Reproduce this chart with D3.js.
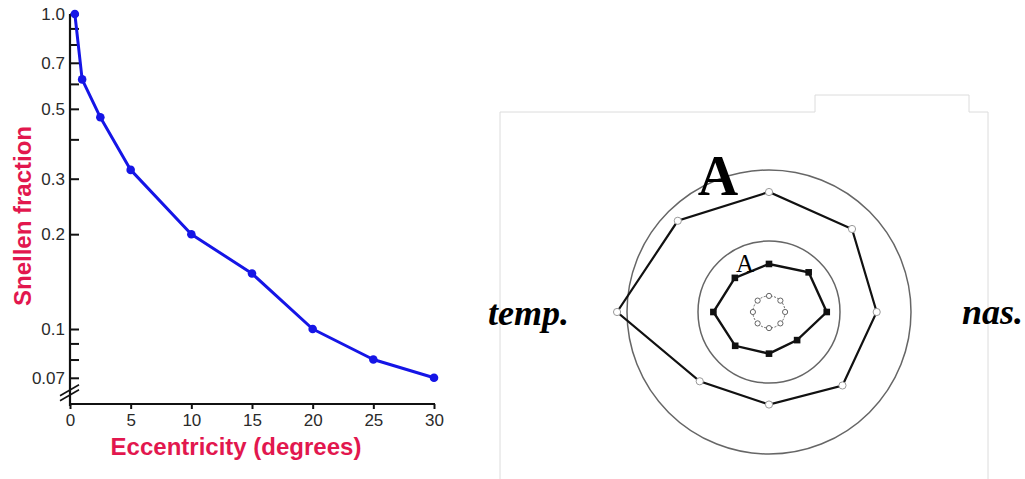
<!DOCTYPE html>
<html>
<head>
<meta charset="utf-8">
<script src="https://cdn.jsdelivr.net/npm/d3@7/dist/d3.min.js"></script>
<style>
  html, body { margin: 0; padding: 0; background: #fff; }
  svg { display: block; }
</style>
</head>
<body>
<svg id="chart" width="1025" height="479"></svg>
<script>
// ---------- Left panel data: visual acuity vs eccentricity ----------
const eccentricity = [0.4, 1, 2.5, 5, 10, 15, 20, 25, 30];
const snellen      = [1.0, 0.62, 0.47, 0.32, 0.2, 0.15, 0.1, 0.08, 0.07];
const xTickValues  = [0, 5, 10, 15, 20, 25, 30];
const yTickValues  = [1.0, 0.9, 0.8, 0.7, 0.6, 0.5, 0.4, 0.3, 0.2, 0.1, 0.09, 0.08, 0.07];
const yTickLabels  = {1.0: "1.0", 0.7: "0.7", 0.5: "0.5", 0.3: "0.3", 0.2: "0.2", 0.1: "0.1", 0.07: "0.07"};
const xTitle = "Eccentricity (degrees)";
const yTitle = "Snellen fraction";

// ---------- Right panel data: polar field plot ----------
const meridians   = [0, 45, 90, 135, 180, 225, 270, 315];           // degrees, 0 = nasal (right)
const outerValues = [45.5, 49.6, 50.7, 54.5, 64.2, 41.4, 39.1, 43.9]; // open circles
const innerValues = [24.4, 23.7, 20.3, 20.4, 23.5, 20.2, 17.6, 16.8]; // filled squares
const centerValues = [6.8, 6.8, 6.8, 6.8, 6.8, 6.8, 6.8, 6.8];        // small ring of open dots
const ringValues  = [60, 30];
const sideLabels  = ["temp.", "nas."];

const svg = d3.select("#chart");

// ================= LEFT CHART =================
const red = "#e2174e";
const blue = "#1515e6";
const x = d3.scaleLinear().domain([0, 30]).range([70, 434]);
const y = d3.scaleLog().domain([0.0578, 1]).range([404, 14]);

const left = svg.append("g");

// y axis (ticks pointing inward)
const yAxis = d3.axisLeft(y)
  .tickValues(yTickValues)
  .tickSize(-9)
  .tickPadding(5)
  .tickFormat(d => yTickLabels[d] || "");
const gy = left.append("g").attr("transform", `translate(${x(0)},0)`).call(yAxis);
gy.select(".domain").remove();
gy.selectAll(".tick line").attr("stroke", "#111").attr("stroke-width", 2);
gy.selectAll(".tick text")
  .attr("font-family", "Liberation Sans, Arial, sans-serif")
  .attr("font-size", 17).attr("fill", "#2a2a2a");

// x axis
const xAxis = d3.axisBottom(x).tickValues(xTickValues).tickSize(5).tickPadding(5).tickSizeOuter(0);
const gx = left.append("g").attr("transform", `translate(0,${y.range()[0]})`).call(xAxis);
gx.select(".domain").remove();
gx.selectAll(".tick line").attr("stroke", "#111").attr("stroke-width", 2);
gx.selectAll(".tick text")
  .attr("font-family", "Liberation Sans, Arial, sans-serif")
  .attr("font-size", 17).attr("fill", "#2a2a2a");

// axis lines
left.append("line")
  .attr("x1", x(0)).attr("x2", x(0)).attr("y1", y(1)).attr("y2", y.range()[0] + 2)
  .attr("stroke", "#111").attr("stroke-width", 2.2);
left.append("line")
  .attr("x1", x(0) - 1).attr("x2", x(30) + 1).attr("y1", y.range()[0]).attr("y2", y.range()[0])
  .attr("stroke", "#111").attr("stroke-width", 2.2);

// axis break marks
const by = y(0.0625);
[-2.5, 2.5].forEach(off => {
  left.append("line")
    .attr("x1", x(0) - 10).attr("y1", by + off + 5)
    .attr("x2", x(0) + 9).attr("y2", by + off - 6)
    .attr("stroke", "#111").attr("stroke-width", 1.6);
});

// data line
const line = d3.line().x((d, i) => x(eccentricity[i])).y(d => y(d)).curve(d3.curveLinear);
left.append("path").datum(snellen)
  .attr("d", line).attr("fill", "none")
  .attr("stroke", blue).attr("stroke-width", 3).attr("stroke-linejoin", "round");
left.selectAll("circle.pt").data(snellen).join("circle")
  .attr("class", "pt")
  .attr("cx", (d, i) => x(eccentricity[i])).attr("cy", d => y(d))
  .attr("r", 4.3).attr("fill", blue);

// titles
left.append("text")
  .attr("x", 236).attr("y", 455).attr("text-anchor", "middle")
  .attr("font-family", "Liberation Sans, Arial, sans-serif").attr("font-weight", "bold")
  .attr("font-size", 24).attr("fill", red).text(xTitle);
left.append("text")
  .attr("transform", "translate(31,216) rotate(-90)").attr("text-anchor", "middle")
  .attr("font-family", "Liberation Sans, Arial, sans-serif").attr("font-weight", "bold")
  .attr("font-size", 24).attr("fill", red).text(yTitle);

// ================= RIGHT CHART =================
const right = svg.append("g");

// scanned page border
right.append("path")
  .attr("d", "M500,479 V112 H815 V95 H969 V112 H988 V479")
  .attr("fill", "none").attr("stroke", "#dcdcdc").attr("stroke-width", 1);

const cx = 769, cy = 312;
const r = d3.scaleLinear().domain([0, 60]).range([0, 142]);
const pt = (deg, v) => {
  const a = deg * Math.PI / 180;
  return [cx + r(v) * Math.cos(a), cy - r(v) * Math.sin(a)];
};

// reference rings
right.selectAll("circle.ring").data(ringValues).join("circle")
  .attr("class", "ring")
  .attr("cx", cx).attr("cy", cy).attr("r", d => r(d))
  .attr("fill", "none").attr("stroke", "#666").attr("stroke-width", 1.5);

const closed = d3.line().curve(d3.curveLinearClosed);

// center small ring
right.append("circle").attr("cx", cx).attr("cy", cy).attr("r", r(centerValues[0]))
  .attr("fill", "none").attr("stroke", "#666").attr("stroke-width", 1)
  .attr("stroke-dasharray", "2,1.5");
right.selectAll("circle.cdot").data(centerValues).join("circle")
  .attr("class", "cdot")
  .attr("cx", (d, i) => pt(meridians[i], d)[0]).attr("cy", (d, i) => pt(meridians[i], d)[1])
  .attr("r", 2.6).attr("fill", "#fff").attr("stroke", "#555").attr("stroke-width", 0.9);

// outer polygon
right.append("path")
  .attr("d", closed(outerValues.map((v, i) => pt(meridians[i], v))))
  .attr("fill", "none").attr("stroke", "#111").attr("stroke-width", 2.2);
right.selectAll("circle.odot").data(outerValues).join("circle")
  .attr("class", "odot")
  .attr("cx", (d, i) => pt(meridians[i], d)[0]).attr("cy", (d, i) => pt(meridians[i], d)[1])
  .attr("r", 3.6).attr("fill", "#fff").attr("stroke", "#999").attr("stroke-width", 1);

// inner polygon
right.append("path")
  .attr("d", closed(innerValues.map((v, i) => pt(meridians[i], v))))
  .attr("fill", "none").attr("stroke", "#111").attr("stroke-width", 2.4);
right.selectAll("rect.isq").data(innerValues).join("rect")
  .attr("class", "isq")
  .attr("x", (d, i) => pt(meridians[i], d)[0] - 3.3).attr("y", (d, i) => pt(meridians[i], d)[1] - 3.3)
  .attr("width", 6.6).attr("height", 6.6).attr("fill", "#111");

// labels
right.append("text").attr("x", 718).attr("y", 195).attr("text-anchor", "middle")
  .attr("font-family", "Liberation Serif, Times New Roman, serif").attr("font-weight", "bold")
  .attr("font-size", 56).attr("fill", "#000").text("A");
right.append("text").attr("x", 745).attr("y", 272).attr("text-anchor", "middle")
  .attr("font-family", "Liberation Serif, Times New Roman, serif")
  .attr("font-size", 25).attr("fill", "#000").text("A");
right.append("text").attr("x", 488).attr("y", 325)
  .attr("font-family", "Liberation Serif, Times New Roman, serif").attr("font-weight", "bold")
  .attr("font-style", "italic").attr("font-size", 36).attr("fill", "#000").text(sideLabels[0]);
right.append("text").attr("x", 962).attr("y", 324)
  .attr("font-family", "Liberation Serif, Times New Roman, serif").attr("font-weight", "bold")
  .attr("font-style", "italic").attr("font-size", 36).attr("fill", "#000").text(sideLabels[1]);
</script>
</body>
</html>
